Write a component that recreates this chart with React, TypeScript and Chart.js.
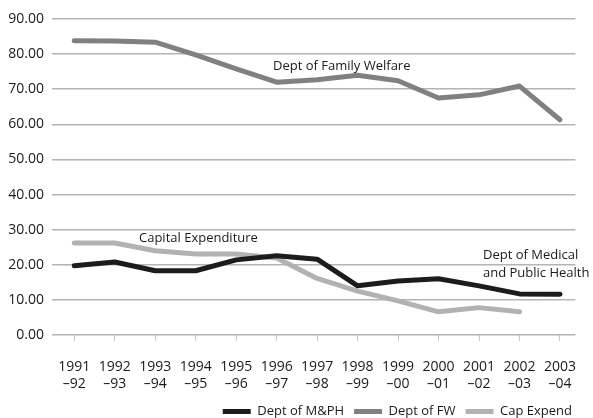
import React, { useEffect, useRef } from "react";
import { Chart, registerables } from "chart.js";

Chart.register(...registerables);

const categories = ["1991", "1992", "1993", "1994", "1995", "1996", "1997", "1998", "1999", "2000", "2001", "2002", "2003"];
const categorySuffix = ["–92", "–93", "–94", "–95", "–96", "–97", "–98", "–99", "–00", "–01", "–02", "–03", "–04"];
const deptMPH = [19.7, 20.8, 18.3, 18.3, 21.4, 22.6, 21.6, 14.0, 15.4, 16.0, 14.0, 11.7, 11.6];
const deptFW = [83.8, 83.7, 83.4, 79.8, 75.8, 72.0, 72.7, 74.0, 72.4, 67.5, 68.4, 70.9, 61.3];
const capExpend = [26.2, 26.2, 24.0, 23.1, 23.1, 21.9, 16.1, 12.5, 9.7, 6.6, 7.8, 6.6, null];
const yTicks = [0, 10, 20, 30, 40, 50, 60, 70, 80, 90];

const FONT = "'Open Sans', sans-serif";

const annotations = [
  { lines: ["Dept of Family Welfare"], x: 273, y: 66 },
  { lines: ["Capital Expenditure"], x: 139, y: 238 },
  { lines: ["Dept of Medical", "and Public Health"], x: 483, y: 255 },
];

const annotationPlugin = {
  id: "annotations",
  afterLayout(chart: any) {
    if (chart.legend) chart.legend.right = 582;
  },
  afterDatasetsDraw(chart: any) {
    const ctx = chart.ctx;
    ctx.save();
    ctx.fillStyle = "#1a1a1a";
    ctx.font = `13px ${FONT}`;
    ctx.textAlign = "left";
    ctx.textBaseline = "middle";
    annotations.forEach((a) => {
      a.lines.forEach((l, i) => ctx.fillText(l, a.x, a.y + i * 18));
    });
    ctx.restore();
  },
};

export default function App() {
  const ref = useRef<HTMLCanvasElement>(null);
  useEffect(() => {
    if (!ref.current) return;
    const toPts = (arr: (number | null)[]) => arr.map((v, i) => ({ x: i, y: v }));
    const common = { borderWidth: 5, pointRadius: 0, borderCapStyle: "round", borderJoinStyle: "round" };
    const chart = new Chart(ref.current, {
      type: "line",
      data: {
        datasets: [
          { label: "Dept of M&PH", data: toPts(deptMPH) as any, borderColor: "#1c1c1c", backgroundColor: "#1c1c1c", ...common } as any,
          { label: "Dept of FW", data: toPts(deptFW) as any, borderColor: "#808080", backgroundColor: "#808080", ...common } as any,
          { label: "Cap Expend", data: toPts(capExpend) as any, borderColor: "#b2b2b2", backgroundColor: "#b2b2b2", ...common } as any,
        ],
      },
      options: {
        animation: false,
        responsive: true,
        maintainAspectRatio: false,
        layout: { padding: { top: 19, right: 0, left: 0, bottom: -10 } },
        plugins: {
          legend: {
            position: "bottom",
            align: "end",
            labels: {
              usePointStyle: true,
              pointStyleWidth: 28,
              pointStyle: "line",
              boxHeight: 10,
              color: "#1a1a1a",
              font: { family: FONT, size: 13 },
              padding: 10,
            },
          },
          tooltip: { enabled: false },
        },
        scales: {
          x: {
            type: "linear",
            min: -0.55,
            max: 12.38,
            afterBuildTicks: (axis: any) => {
              axis.ticks = categories.map((_, i) => ({ value: i }));
            },
            afterFit: (axis: any) => {
              axis.height = 60;
            },
            ticks: {
              autoSkip: false,
              maxRotation: 0,
              color: "#1a1a1a",
              font: { family: FONT, size: 14, lineHeight: 1.25 },
              padding: 17,
              callback: (v: any) => [categories[v], categorySuffix[v]],
            },
            grid: { drawOnChartArea: false, color: "#c8c8c8", tickLength: 6 },
            border: { display: false },
          },
          y: {
            min: 0,
            max: 90,
            afterBuildTicks: (axis: any) => {
              axis.ticks = yTicks.map((v) => ({ value: v }));
            },
            afterFit: (axis: any) => {
              axis.width = 52;
            },
            ticks: {
              color: "#1a1a1a",
              font: { family: FONT, size: 14 },
              padding: 8,
              callback: (v: any) => Number(v).toFixed(2),
            },
            grid: { color: "#b4b4b4", drawTicks: false, lineWidth: 1.5 },
            border: { display: false },
          },
        },
      },
      plugins: [annotationPlugin],
    });
    return () => chart.destroy();
  }, []);
  return (
    <div style={{ position: "fixed", left: 0, top: 0, width: 593, height: 418, background: "#fff" }}>
      <canvas ref={ref} />
    </div>
  );
}
